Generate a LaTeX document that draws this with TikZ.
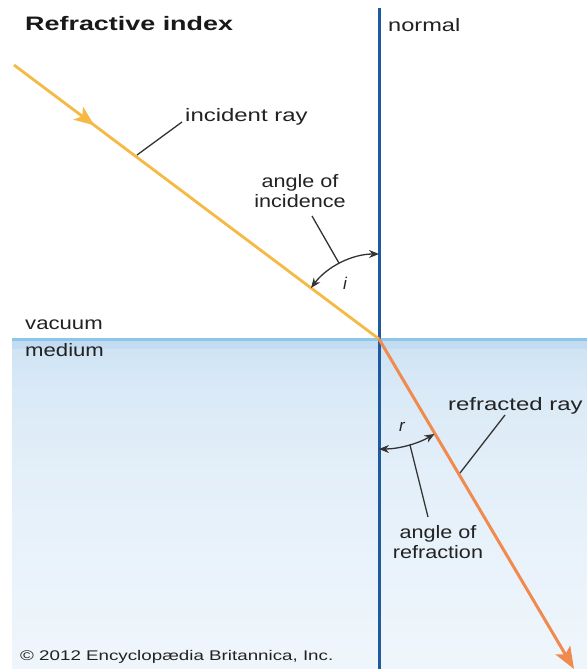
\documentclass[tikz,border=0pt]{standalone}
\usepackage{fontspec}
\usepackage{graphicx}
\setmainfont{Liberation Sans}
\usetikzlibrary{arrows.meta,decorations.markings,calc}
\definecolor{normalblue}{HTML}{1D5A9E}
\definecolor{incray}{HTML}{F5B944}
\definecolor{refray}{HTML}{F08A4E}
\definecolor{surf}{HTML}{8CC6EA}
\definecolor{medtop}{HTML}{C3DCF1}
\definecolor{medbot}{HTML}{EFF6FC}
\definecolor{leadc}{HTML}{333333}
\definecolor{txt}{HTML}{222222}
\newcommand{\stretchtxt}[2][1.28]{\scalebox{#1}[1]{#2}}
\begin{document}
\begin{tikzpicture}[x=1pt,y=-1pt,
  lbl/.style={font=\fontsize{18}{20}\selectfont, text=txt, inner sep=0pt},
  leader/.style={draw=leadc, line width=1.3pt},
  dimarc/.style={draw=leadc, line width=1.3pt, {Stealth[length=10pt,width=8pt]}-{Stealth[length=10pt,width=8pt]}}]
\useasboundingbox (0,0) rectangle (587,669);
\fill[white] (0,0) rectangle (587,669);
% medium gradient
\foreach \i in {0,...,33} {
  \pgfmathsetmacro\p{100*(\i/33)^0.35}
  \fill[medbot!\p!medtop] (12,{339+\i*10}) rectangle (587,{350.5+\i*10});
}
% key points
\coordinate (O) at (379,339);
\coordinate (S) at (14,65);
\coordinate (E) at (574,669);
\coordinate (NT) at (379,8);
\coordinate (NB) at (379,669);
\coordinate (SL) at (12,339);
\coordinate (SR) at (587,339);
% surface and normal
\draw[surf, line width=3pt] (SL) -- (SR);
\draw[normalblue, line width=3pt] (NT) -- (NB);
% rays
\draw[incray, line width=2.8pt, postaction={decorate},
  decoration={markings, mark=at position 0.22 with {\arrow{Stealth[length=20pt,width=16pt,inset=5pt]}}}] (S) -- (O);
\draw[refray, line width=3pt, -{Stealth[length=22pt,width=17pt,inset=5pt]}] (O) -- (E);
% angle arcs
\draw[dimarc] ($(O)+(-90:85)$) arc[start angle=-90, end angle=-143.1, radius=85];
\draw[dimarc] ($(O)+(90:110)$) arc[start angle=90, end angle=59.7, radius=110];
% labels
\node[lbl, anchor=base west, font=\fontsize{19.5}{22}\selectfont\bfseries, text=black!90] (title) at (25,31) {\stretchtxt[1.38]{Refractive index}};
\node[lbl, anchor=base west] (normal) at (388,32) {\stretchtxt[1.31]{normal}};
\node[lbl, anchor=base west] (inclbl) at (185,121) {\stretchtxt[1.33]{incident ray}};
\node[lbl, anchor=base] (ailbl) at (300,187) {\stretchtxt[1.2]{\begin{tabular}[t]{@{}c@{}}angle of\\incidence\end{tabular}}};
\node[lbl, anchor=base west] (vac) at (25,329) {\stretchtxt[1.23]{vacuum}};
\node[lbl, anchor=base west] (med) at (25,356) {\stretchtxt[1.23]{medium}};
\node[lbl, anchor=base west] (reflbl) at (448,410) {\stretchtxt[1.33]{refracted ray}};
\node[lbl, anchor=base] (arlbl) at (438,538) {\stretchtxt[1.2]{\begin{tabular}[t]{@{}c@{}}angle of\\refraction\end{tabular}}};
\node[lbl, font=\fontsize{17}{20}\selectfont\itshape] (ilbl) at (345,283) {i};
\node[lbl, font=\fontsize{17}{20}\selectfont\itshape] (rlbl) at (402,427) {r};
\node[lbl, anchor=base west, font=\fontsize{14}{16}\selectfont] (copy) at (20,660) {\stretchtxt[1.34]{© 2012 Encyclopædia Britannica, Inc.}};
% leader lines
\coordinate (incP) at (137,155);
\coordinate (incT) at (182,122);
\coordinate (aiP) at ($(O)+(-117.8:86)$);
\coordinate (aiT) at (312,216);
\coordinate (arP) at ($(O)+(73.7:110)$);
\coordinate (arT) at (428,517);
\coordinate (refP) at (460,473);
\coordinate (refT) at (505,415);
\draw[leader] (incP) -- (incT);
\draw[leader] (aiT) -- (aiP);
\draw[leader] (arP) -- (arT);
\draw[leader] (refP) -- (refT);
\end{tikzpicture}
\end{document}
